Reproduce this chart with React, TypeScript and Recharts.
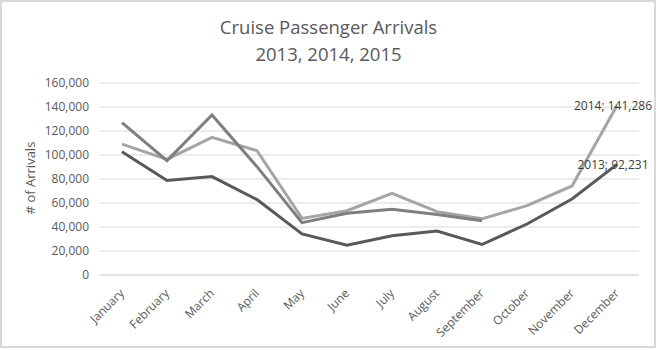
import { LineChart, Line, XAxis, YAxis, CartesianGrid, Label, ReferenceDot } from "recharts"

const months = [
  "January", "February", "March", "April", "May", "June",
  "July", "August", "September", "October", "November", "December",
]

const arrivals2013 = [102800, 78800, 82000, 62800, 34200, 24800, 32700, 36600, 25400, 42500, 63300, 92231]
const arrivals2014 = [109000, 96400, 114700, 103600, 47200, 53600, 68000, 52800, 46800, 57800, 74200, 141286]
const arrivals2015 = [127000, 95300, 133300, 90300, 43600, 51400, 54700, 50500, 45300, null, null, null]

const yTicks = [0, 20000, 40000, 60000, 80000, 100000, 120000, 140000, 160000]

const data = months.map((m, i) => ({
  month: m,
  "2013": arrivals2013[i],
  "2014": arrivals2014[i],
  "2015": arrivals2015[i],
}))

const font = "'Open Sans', sans-serif"
const last = months.length - 1

const endLabel = (year: string, value: number) => (props: any) => {
  const vb = props.viewBox || {}
  const cx = vb.x + (vb.width || 0) / 2
  const cy = vb.y + (vb.height || 0) / 2
  return (
    <text x={cx - 4} y={cy} textAnchor="middle" dominantBaseline="central" fill="#404040" fontSize={12} fontFamily={font}>
      {`${year}; ${value.toLocaleString("en-US")}`}
    </text>
  )
}

const MonthTick = (props: any) => {
  const { x, y, payload } = props
  const ax = x + 3
  const ay = y + 11
  return (
    <text x={ax} y={ay} transform={`rotate(-45 ${ax} ${ay})`} textAnchor="end" fill="#595959" fontSize={12} fontFamily={font}>
      {payload.value}
    </text>
  )
}

export default function App() {
  return (
    <div style={{ position: "relative", width: 657, height: 350, background: "#fff", fontFamily: font }}>
      <style>{`body{margin:0}`}</style>
      <div
        style={{
          position: "absolute", left: 0, top: 0, width: 656, height: 348, boxSizing: "border-box",
          border: "2px solid #dadada", pointerEvents: "none",
        }}
      />
      <div
        style={{
          position: "absolute", top: 13, left: 0, width: 657, textAlign: "center",
          fontSize: 18.5, lineHeight: "27px", color: "#595959",
        }}
      >
        Cruise Passenger Arrivals
        <br />
        2013, 2014, 2015
      </div>
      <LineChart width={657} height={350} data={data} margin={{ top: 83, right: 18, left: 0, bottom: 0 }}>
        <CartesianGrid vertical={false} stroke="#d9d9d9" strokeWidth={1} />
        <XAxis
          dataKey="month"
          height={75}
          interval={0}
          padding={{ left: 22, right: 22 }}
          tickLine={false}
          axisLine={{ stroke: "#d9d9d9" }}
          tick={<MonthTick />}
        />
        <YAxis
          width={100}
          domain={[0, 160000]}
          ticks={yTicks}
          tickLine={false}
          axisLine={false}
          tickMargin={5}
          tickFormatter={(v: number) => v.toLocaleString("en-US")}
          tick={{ fill: "#595959", fontSize: 12, fontFamily: font }}
        >
          <Label
            content={() => (
              <text x={30} y={178} transform="rotate(-90 30 178)" textAnchor="middle" dominantBaseline="central" fill="#595959" fontSize={13} fontFamily={font}>
                # of Arrivals
              </text>
            )}
          />
        </YAxis>
        <Line dataKey="2013" stroke="#595959" strokeWidth={3} dot={false} isAnimationActive={false} />
        <Line dataKey="2014" stroke="#a5a5a5" strokeWidth={3} dot={false} isAnimationActive={false} />
        <Line dataKey="2015" stroke="#7f7f7f" strokeWidth={3} dot={false} isAnimationActive={false} />
        <ReferenceDot
          x={months[last]}
          y={arrivals2014[last]}
          r={0}
          stroke="none"
          fill="none"
          ifOverflow="visible"
          label={endLabel("2014", arrivals2014[last])}
        />
        <ReferenceDot
          x={months[last]}
          y={arrivals2013[last]}
          r={0}
          stroke="none"
          fill="none"
          ifOverflow="visible"
          label={endLabel("2013", arrivals2013[last])}
        />
      </LineChart>
    </div>
  )
}
